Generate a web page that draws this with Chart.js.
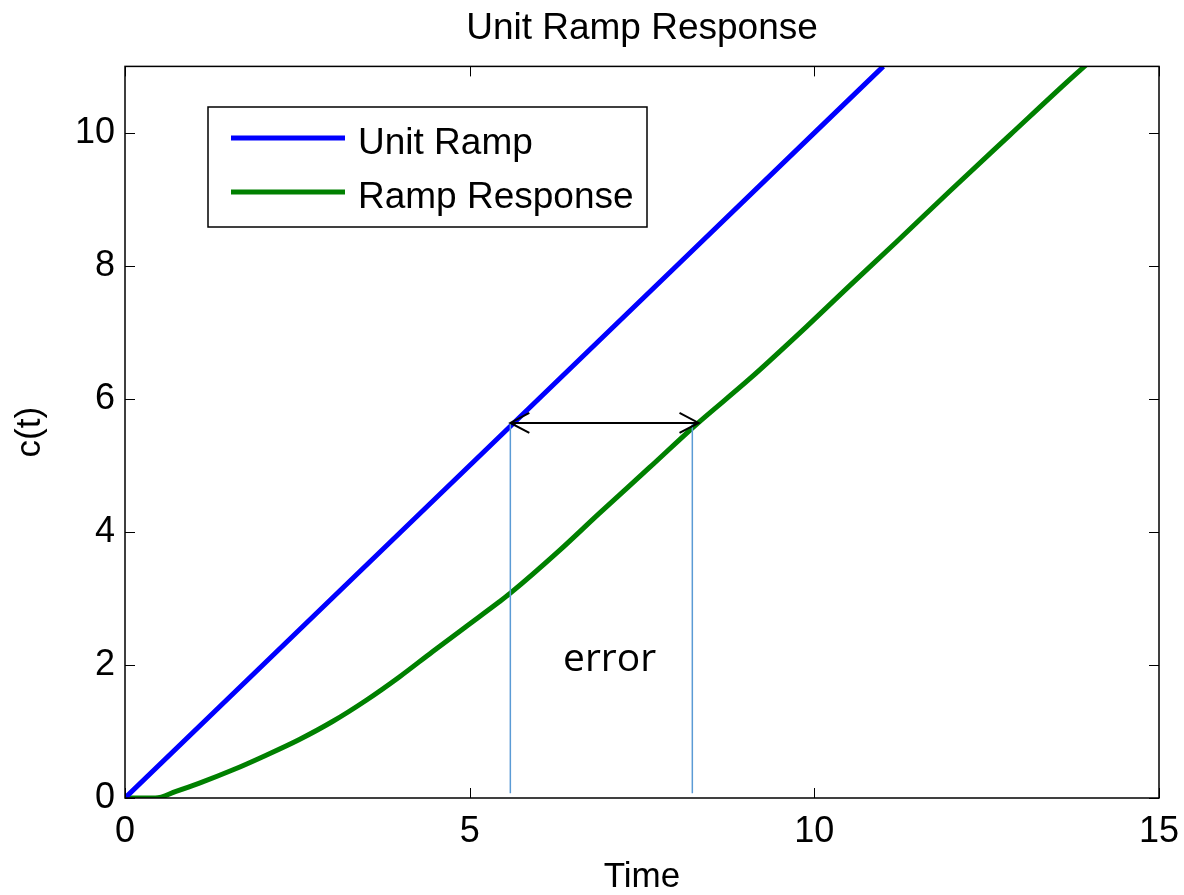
<!DOCTYPE html>
<html>
<head>
<meta charset="utf-8">
<title>Unit Ramp Response</title>
<script src="https://cdn.jsdelivr.net/npm/chart.js@4.4.1/dist/chart.umd.min.js"></script>
<style>
  body { margin: 0; background: #ffffff; }
  #chart { display: block; }
</style>
</head>
<body>
<canvas id="chart" width="1184" height="895"></canvas>
<script>
// values
const rampTime = [0, 2, 4, 6, 8, 10, 11];
const rampValue = [0, 2, 4, 6, 8, 10, 11];

const responseTime = [0, 0.44, 0.74, 1.07, 1.56, 2.04, 2.53, 3.01, 3.5, 3.98, 4.46, 4.95, 5.43, 5.59, 6.3, 6.88, 7.61, 8.27, 9.06, 9.88, 10.51, 11.19, 11.96, 12.84, 13.66, 13.95];
const responseValue = [0, 0, 0.1, 0.22, 0.42, 0.64, 0.88, 1.15, 1.47, 1.82, 2.2, 2.58, 2.95, 3.08, 3.72, 4.28, 4.97, 5.6, 6.3, 7.08, 7.7, 8.36, 9.12, 9.97, 10.76, 11.03];

const xTicks = [0, 5, 10, 15];
const yTicks = [0, 2, 4, 6, 8, 10];

// error annotation
const errorMarkerTime = [5.59, 8.23];
const errorMarkerLow = 0.07;
const errorLevel = 5.64;
const errorArrowTime = [5.59, 8.32];
const errorLabel = "error";
const errorLabelAt = [7.03, 2.07];

const FONT = "'Liberation Sans', Arial, Helvetica, sans-serif";

function toPoints(xs, ys) {
  return xs.map((x, i) => ({ x: x, y: ys[i] }));
}

const markerSets = errorMarkerTime.map((t) => ({
  label: "marker",
  data: toPoints([t, t], [errorMarkerLow, errorLevel]),
  borderColor: "#5b9bd5",
  borderWidth: 1.5,
  pointRadius: 0,
  order: 0,
}));

const boxPlugin = {
  id: "boxPlugin",
  afterDatasetsDraw(chart) {
    const ctx = chart.ctx;
    const xs = chart.scales.x;
    const ys = chart.scales.y;

    // arrow between the two curves
    const y = ys.getPixelForValue(errorLevel);
    const x1 = xs.getPixelForValue(errorArrowTime[0]);
    const x2 = xs.getPixelForValue(errorArrowTime[1]);
    ctx.save();
    ctx.strokeStyle = "#000000";
    ctx.lineWidth = 2;
    ctx.beginPath();
    ctx.moveTo(x1, y);
    ctx.lineTo(x2, y);
    ctx.moveTo(x1 + 19, y - 10);
    ctx.lineTo(x1, y);
    ctx.lineTo(x1 + 19, y + 10);
    ctx.moveTo(x2 - 19, y - 10);
    ctx.lineTo(x2, y);
    ctx.lineTo(x2 - 19, y + 10);
    ctx.stroke();

    ctx.fillStyle = "#000000";
    ctx.font = "39px 'Open Sans', sans-serif";
    ctx.textAlign = "center";
    ctx.textBaseline = "middle";
    ctx.fillText(
      errorLabel,
      xs.getPixelForValue(errorLabelAt[0]),
      ys.getPixelForValue(errorLabelAt[1])
    );
    ctx.restore();
  },
  afterDraw(chart) {
    const ctx = chart.ctx;
    const xs = chart.scales.x;
    const ys = chart.scales.y;
    const a = chart.chartArea;
    const tick = 10;

    ctx.save();
    ctx.strokeStyle = "#000000";
    ctx.lineWidth = 1.5;
    ctx.strokeRect(a.left, a.top, a.right - a.left, a.bottom - a.top);

    ctx.lineWidth = 1;
    ctx.beginPath();
    xTicks.forEach((v) => {
      const px = Math.round(xs.getPixelForValue(v)) + 0.5;
      ctx.moveTo(px, a.bottom);
      ctx.lineTo(px, a.bottom - tick);
      ctx.moveTo(px, a.top);
      ctx.lineTo(px, a.top + tick);
    });
    yTicks.forEach((v) => {
      const py = Math.round(ys.getPixelForValue(v)) + 0.5;
      ctx.moveTo(a.left, py);
      ctx.lineTo(a.left + tick, py);
      ctx.moveTo(a.right, py);
      ctx.lineTo(a.right - tick, py);
    });
    ctx.stroke();

    // legend
    const lx = 208, ly = 107, lw = 439, lh = 120;
    ctx.fillStyle = "#ffffff";
    ctx.fillRect(lx, ly, lw, lh);
    ctx.lineWidth = 1.5;
    ctx.strokeStyle = "#000000";
    ctx.strokeRect(lx, ly, lw, lh);

    const entries = chart.data.datasets.filter((d) => d.label !== "marker");
    ctx.font = "37px " + FONT;
    ctx.textAlign = "left";
    ctx.textBaseline = "middle";
    entries.forEach((d, i) => {
      const rowY = ly + 31 + i * 54;
      ctx.strokeStyle = d.borderColor;
      ctx.lineWidth = 5;
      ctx.beginPath();
      ctx.moveTo(lx + 23, rowY);
      ctx.lineTo(lx + 137, rowY);
      ctx.stroke();
      ctx.fillStyle = "#000000";
      ctx.fillText(d.label, lx + 150, rowY + 6);
    });
    ctx.restore();
  },
};

new Chart(document.getElementById("chart"), {
  type: "line",
  data: {
    datasets: [
      {
        label: "Unit Ramp",
        data: toPoints(rampTime, rampValue),
        borderColor: "#0000ff",
        borderWidth: 5,
        pointRadius: 0,
        order: 1,
      },
      {
        label: "Ramp Response",
        data: toPoints(responseTime, responseValue),
        borderColor: "#008000",
        borderWidth: 5,
        pointRadius: 0,
        cubicInterpolationMode: "monotone",
        order: 2,
      },
      ...markerSets,
    ],
  },
  options: {
    responsive: false,
    animation: false,
    events: [],
    layout: { padding: { left: 0, right: 25, top: 0, bottom: 0 } },
    plugins: {
      legend: { display: false },
      tooltip: { enabled: false },
      title: {
        display: true,
        fullSize: false,
        text: "Unit Ramp Response",
        color: "#000000",
        font: { family: FONT, size: 37, weight: "normal", lineHeight: 1.2 },
        padding: { top: 7, bottom: 15 },
      },
    },
    scales: {
      x: {
        type: "linear",
        min: 0,
        max: 15,
        afterBuildTicks: (scale) => {
          scale.ticks = xTicks.map((v) => ({ value: v }));
        },
        afterFit: (scale) => {
          scale.height = 97;
          scale.paddingLeft = 0;
          scale.paddingRight = 0;
        },
        grid: { display: false, drawTicks: false },
        border: { display: false },
        ticks: {
          color: "#000000",
          padding: 12,
          maxRotation: 0,
          font: { family: FONT, size: 36 },
        },
        title: {
          display: true,
          text: "Time",
          color: "#000000",
          font: { family: FONT, size: 35, lineHeight: 1 },
          padding: { top: 0, bottom: 0 },
        },
      },
      y: {
        type: "linear",
        min: 0,
        max: 11,
        afterBuildTicks: (scale) => {
          scale.ticks = yTicks.map((v) => ({ value: v }));
        },
        afterFit: (scale) => {
          scale.width = 125;
        },
        grid: { display: false, drawTicks: false },
        border: { display: false },
        ticks: {
          color: "#000000",
          padding: 10,
          font: { family: FONT, size: 36 },
        },
        title: {
          display: true,
          text: "c(t)",
          color: "#000000",
          font: { family: FONT, size: 35, lineHeight: 1 },
          padding: { top: 13, bottom: 0 },
        },
      },
    },
  },
  plugins: [boxPlugin],
});
</script>
</body>
</html>
